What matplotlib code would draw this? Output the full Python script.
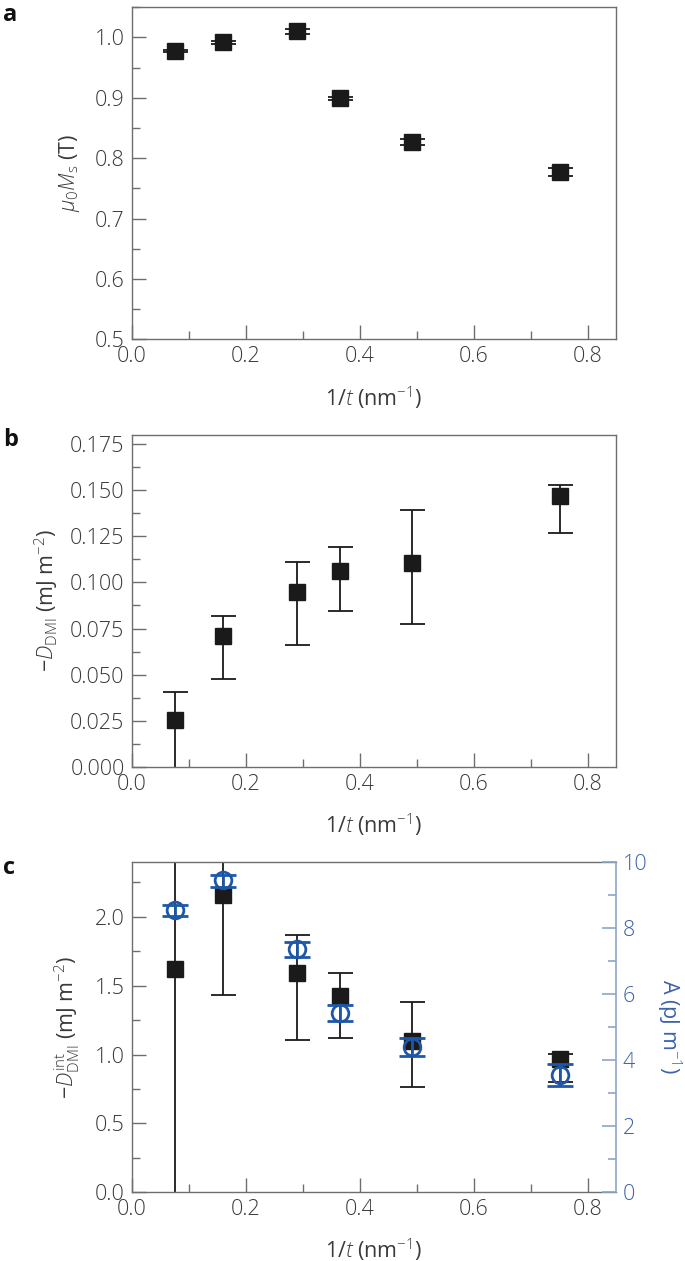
import numpy as np
import matplotlib
matplotlib.use("Agg")
import matplotlib.pyplot as plt
from matplotlib.ticker import MultipleLocator, FormatStrFormatter

plt.rcParams['font.family'] = ['Open Sans', 'DejaVu Sans']
plt.rcParams['font.weight'] = 'light'
plt.rcParams['mathtext.fontset'] = 'custom'
plt.rcParams['mathtext.rm'] = 'Open Sans:light'
plt.rcParams['mathtext.it'] = 'Open Sans:italic:light'
plt.rcParams['mathtext.bf'] = 'Open Sans:bold'

# inverse thickness 1/t (nm^-1), shared by all panels
inv_t = [0.076, 0.161, 0.290, 0.366, 0.492, 0.752]

# panel a: saturation magnetisation
ms = [0.978, 0.992, 1.010, 0.899, 0.827, 0.777]
ms_err = [0.002, 0.002, 0.004, 0.003, 0.005, 0.006]

# panel b: D_DMI with lower/upper bounds
dmi = [0.0253, 0.0709, 0.0947, 0.1063, 0.1106, 0.1470]
dmi_low = [-0.010, 0.0474, 0.0660, 0.0846, 0.0772, 0.1267]
dmi_high = [0.0407, 0.0819, 0.1112, 0.1190, 0.1394, 0.1528]

# panel c: interfacial D_DMI (left) and exchange stiffness A (right)
dint = [1.618, 2.157, 1.594, 1.427, 1.100, 0.970]
dint_low = [-0.5, 1.432, 1.105, 1.122, 0.762, 0.800]
dint_high = [3.0, 3.0, 1.867, 1.589, 1.379, 1.004]

stiff = [8.54, 9.43, 7.36, 5.43, 4.40, 3.55]
stiff_low = [8.37, 9.23, 7.11, 5.19, 4.12, 3.21]
stiff_high = [8.69, 9.60, 7.58, 5.65, 4.66, 3.87]

TEXT = '#3a3a3a'
SPINE = '#6e6e6e'
BLUE = '#1f57a8'
BLUE_AX = '#8ba5c9'
BLUE_TXT = '#3d62ad'
FS = 15.5

fig = plt.figure(figsize=(6.85, 12.61), dpi=100)


def style_axes(ax):
    for s in ax.spines.values():
        s.set_color(SPINE)
        s.set_linewidth(1.0)
    ax.tick_params(which='both', direction='in', colors=SPINE, labelcolor=TEXT,
                   labelsize=FS, top=False, right=False, width=1.0)
    ax.tick_params(which='major', length=10, pad=5)
    ax.tick_params(which='minor', length=6)
    ax.set_xlim(0, 0.85)
    ax.xaxis.set_major_locator(MultipleLocator(0.2))
    ax.xaxis.set_minor_locator(MultipleLocator(0.1))
    ax.xaxis.set_major_formatter(FormatStrFormatter('%.1f'))
    ax.set_xlabel('1/$t$ (nm$^{\u22121}$)', fontsize=FS, color=TEXT, labelpad=12)


def asym(y, lo, hi):
    y = np.array(y)
    return [y - np.array(lo), np.array(hi) - y]


L, W = 0.192, 0.7073

# ---- panel a
ax1 = fig.add_axes([L, 0.7309, W, 0.2633])
style_axes(ax1)
ax1.errorbar(inv_t, ms, yerr=ms_err, fmt='s', color='#1a1a1a', ms=12,
             elinewidth=1.3, capsize=9, capthick=1.3)
ax1.set_ylim(0.5, 1.05)
ax1.yaxis.set_major_locator(MultipleLocator(0.1))
ax1.yaxis.set_minor_locator(MultipleLocator(0.05))
ax1.yaxis.set_major_formatter(FormatStrFormatter('%.1f'))
ax1.set_ylabel('$\\mu_0M_\\mathrm{s}$ (T)', fontsize=FS, color=TEXT, labelpad=9)

# ---- panel b
ax2 = fig.add_axes([L, 0.392, W, 0.263])
style_axes(ax2)
ax2.errorbar(inv_t, dmi, yerr=asym(dmi, dmi_low, dmi_high), fmt='s', color='#1a1a1a',
             ms=12, elinewidth=1.3, capsize=9, capthick=1.3)
ax2.set_ylim(0, 0.18)
ax2.yaxis.set_major_locator(MultipleLocator(0.025))
ax2.yaxis.set_minor_locator(MultipleLocator(0.0125))
ax2.yaxis.set_major_formatter(FormatStrFormatter('%.3f'))
ax2.set_ylabel('\u2212$D_\\mathrm{DMI}$ (mJ m$^{\u22122}$)', fontsize=FS, color=TEXT, labelpad=7)

# ---- panel c
ax3 = fig.add_axes([L, 0.0545, W, 0.2622])
style_axes(ax3)
ax3.errorbar(inv_t, dint, yerr=asym(dint, dint_low, dint_high), fmt='s', color='#1a1a1a',
             ms=12, elinewidth=1.3, capsize=9, capthick=1.3, zorder=2)
ax3.set_ylim(0, 2.4)
ax3.yaxis.set_major_locator(MultipleLocator(0.5))
ax3.yaxis.set_minor_locator(MultipleLocator(0.25))
ax3.yaxis.set_major_formatter(FormatStrFormatter('%.1f'))
ax3.set_ylabel('\u2212$D^\\mathrm{int}_\\mathrm{DMI}$ (mJ m$^{\u22122}$)', fontsize=FS,
               color=TEXT, labelpad=9)
ax3.spines['right'].set_visible(False)

ax4 = ax3.twinx()
ax4.set_position([L, 0.0545, W, 0.2622])
for s in ax4.spines.values():
    s.set_visible(False)
ax4.spines['right'].set_visible(True)
ax4.spines['right'].set_color(BLUE_AX)
ax4.spines['right'].set_linewidth(1.2)
ax4.errorbar(inv_t, stiff, yerr=asym(stiff, stiff_low, stiff_high), fmt='o', color=BLUE,
             mfc='none', mec=BLUE, mew=2.0, ms=12, elinewidth=2.0, capsize=9.5,
             capthick=2.2, zorder=3)
ax4.set_ylim(0, 10)
ax4.yaxis.set_major_locator(MultipleLocator(2))
ax4.yaxis.set_minor_locator(MultipleLocator(1))
ax4.tick_params(which='both', direction='in', colors=BLUE_AX, labelcolor=BLUE_TXT,
                labelsize=FS, width=1.2)
ax4.tick_params(which='major', length=10, pad=5)
ax4.tick_params(which='minor', length=6)
ax4.set_ylabel('A (pJ m$^{\u22121}$)', fontsize=FS, color=BLUE_TXT, rotation=270, labelpad=26)

# panel letters
for lab, yp in [('a', 15), ('b', 440), ('c', 868)]:
    fig.text(0.004, 1 - yp / 1261, lab, fontsize=17, fontweight='bold', color='#111111',
             va='center', ha='left')

fig.savefig('out.png', dpi=100)
